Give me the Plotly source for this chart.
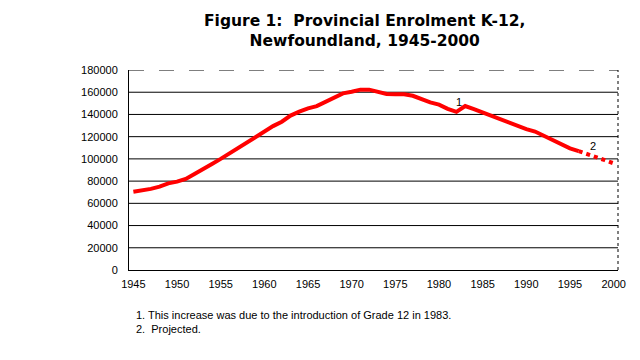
import plotly.graph_objects as go

years = list(range(1945, 1997))
enrolment = [70500, 71500, 73000, 75000, 78000, 79500, 82000, 86500, 90500, 95500,
             100000, 105000, 110000, 115500, 120500, 125500, 129500, 133500, 139000, 142500,
             145500, 147500, 151500, 155500, 159000, 160500, 162300, 162300, 160800, 158500,
             158100, 158100, 156800, 153500, 150800, 148800, 145000, 142300, 147600, 144800,
             141800, 138800, 135800, 132200, 129200, 126800, 124600, 120800, 116600, 112600,
             109500, 107000]
proj_years = [1996, 1997, 1998, 1999, 2000]
proj_values = [107000, 104000, 101500, 98800, 96000]
grid_vals = [20000, 40000, 60000, 80000, 100000, 120000, 140000, 160000]
x_ticks = list(range(1945, 2001, 5))
y_ticks = list(range(0, 180001, 20000))

fig = go.Figure()
fig.add_trace(go.Scatter(x=years, y=enrolment, mode="lines",
                         line=dict(color="#ff0000", width=4), showlegend=False))
fig.add_trace(go.Scatter(x=proj_years, y=proj_values, mode="lines",
                         line=dict(color="#ff0000", width=4, dash="dot"), showlegend=False))

shapes = []
for g in grid_vals:
    shapes.append(dict(type="line", xref="paper", x0=0, x1=1, yref="y", y0=g, y1=g,
                       line=dict(color="black", width=1), layer="below"))
shapes.append(dict(type="line", xref="paper", x0=0, x1=1, yref="y", y0=180000, y1=180000,
                   line=dict(color="black", width=1, dash="longdash"), layer="below"))
shapes.append(dict(type="line", xref="paper", x0=1, x1=1, yref="paper", y0=0, y1=1,
                   line=dict(color="black", width=1, dash="dot"), layer="below"))

font = "Liberation Sans, Arial, sans-serif"
L, R, T, B = 121, 30, 62, 98
pw = 640 - L - R
fig.update_layout(
    width=640, height=360,
    margin=dict(l=L, r=R, t=T, b=B),
    paper_bgcolor="white", plot_bgcolor="white",
    shapes=shapes,
    font=dict(family=font, color="black", size=11),
    xaxis=dict(range=[1944.5, 2000.5], tickvals=x_ticks, showgrid=False, zeroline=False,
               showline=True, linecolor="black", linewidth=1, ticks="",
               ticklabelstandoff=4, tickfont=dict(size=11)),
    yaxis=dict(range=[0, 180000], tickvals=y_ticks, showgrid=False, zeroline=False,
               showline=True, linecolor="black", linewidth=1, ticks="",
               ticklabelstandoff=8, tickformat="d", tickfont=dict(size=11)),
    annotations=[
        dict(text="<b>Figure 1:  Provincial Enrolment K-12,<br>Newfoundland, 1945-2000</b>",
             xref="paper", yref="paper", x=(364 - 8 - L) / pw, y=1.0, yshift=60,
             xanchor="center", yanchor="top", showarrow=False,
             font=dict(size=15.5, family="DejaVu Sans, sans-serif")),
        dict(text="1", x=1982.3, y=151500, showarrow=False, font=dict(size=11)),
        dict(text="2", x=1997.6, y=111600, showarrow=False, font=dict(size=11)),
        dict(text="1. This increase was due to the introduction of Grade 12 in 1983.<br>2.  Projected.",
             xref="paper", yref="paper", x=(134 - 8 - L) / pw, y=0, yshift=-37,
             xanchor="left", yanchor="top", align="left", showarrow=False,
             font=dict(size=11)),
    ],
)
fig.write_html("out.html")
